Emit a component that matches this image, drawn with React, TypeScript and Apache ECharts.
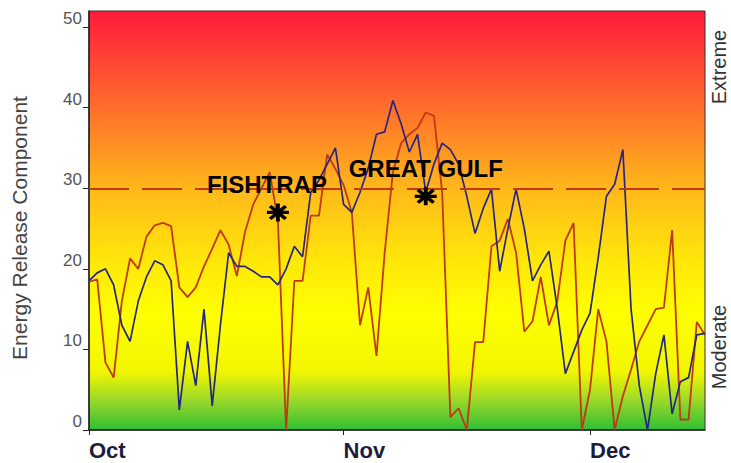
import { useEffect, useRef } from "react";
import * as echarts from "echarts";

// Categories: daily dates from Oct 1 to Dec 15
const monthNames = ["Oct", "Nov", "Dec"];
const monthLengths = [31, 30, 15];
const categories: string[] = [];
monthNames.forEach((m, i) => {
  for (let d = 1; d <= monthLengths[i]; d++) categories.push(`${m} ${d}`);
});

// Energy Release Component, blue series
const blueValues = [
  18.5, 19.5, 20, 18, 13, 11, 16, 19, 21, 20.5,
  18.5, 2.5, 11, 5.5, 15, 3, 13, 22, 20.3, 20.3,
  19.7, 19, 19, 18, 20, 22.8, 21.5, 29.5, 31, 33,
  35, 28, 27, 29.5, 32.5, 36.7, 37, 40.9, 38, 34.5,
  36.7, 29.5, 33, 35.6, 34.8, 33, 29, 24.4, 27.5, 29.9,
  19.7, 25, 29.9, 25, 18.5, 20.5, 22.2, 15.2, 7, 9.7,
  12.4, 14.5, 21.4, 29, 30.5, 34.8, 15, 5.5, 0, 7,
  11.8, 2, 6, 6.5, 11.8, 12,
];

// Energy Release Component, red series
const redValues = [
  18.4, 18.7, 8.4, 6.5, 16, 21.3, 20, 24, 25.4, 25.7,
  25.3, 17.7, 16.5, 17.7, 20.3, 22.5, 24.8, 23, 19.1, 24.6,
  28, 30, 32, 26, 0, 18.5, 18.5, 26.6, 26.6, 34.2,
  32.4, 30.4, 27, 13, 17.7, 9.2, 22, 32, 35.6, 36.7,
  37.5, 39.4, 39, 29.5, 1.6, 2.7, 0, 10.9, 10.9, 22.8,
  23.5, 26.2, 22, 12.2, 13.5, 19, 13, 15.9, 23.5, 25.7,
  0, 5, 15, 11, 0, 4.2, 7.5, 11, 13, 15,
  15.2, 24.8, 1.3, 1.3, 13.4, 11.8,
];

// Threshold line
const thresholdValue = 30;

// Station markers
const stationNames = ["FISHTRAP", "GREAT GULF"];
const stationDayIndex = [23, 41];
const stationValues = [27, 29];

// Y-axis ticks
const yTickValues = [0, 10, 20, 30, 40, 50];

const asteriskPath =
  "path://M0,-9L0,9M-9,0L9,0M-6.4,-6.4L6.4,6.4M-6.4,6.4L6.4,-6.4";

export default function App() {
  const ref = useRef<HTMLDivElement>(null);

  useEffect(() => {
    if (!ref.current) return;
    const chart = echarts.init(ref.current, undefined, { renderer: "svg" });

    const isMonthStart = (_i: number, v: string) => v.split(" ")[1] === "1";
    const font = "Arial, 'Liberation Sans', sans-serif";

    const option: any = {
      animation: false,
      backgroundColor: "#ffffff",
      grid: {
        left: 89,
        right: 26,
        top: 11,
        bottom: 33,
        show: true,
        borderColor: "#333",
        borderWidth: 1,
        backgroundColor: new echarts.graphic.LinearGradient(0, 0, 0, 1, [
          { offset: 0, color: "#ff1a3c" },
          { offset: 0.22, color: "#ff6a2c" },
          { offset: 0.43, color: "#ffba1a" },
          { offset: 0.6, color: "#ffe80a" },
          { offset: 0.72, color: "#ffff00" },
          { offset: 0.86, color: "#f2f600" },
          { offset: 0.93, color: "#9ad82a" },
          { offset: 1, color: "#2fbf35" },
        ]),
      },
      xAxis: {
        type: "category",
        data: categories,
        boundaryGap: false,
        axisLine: { show: true, lineStyle: { color: "#222", width: 1.5 } },
        axisTick: {
          show: true,
          interval: isMonthStart,
          length: 5,
          lineStyle: { color: "#222" },
        },
        axisLabel: {
          interval: isMonthStart,
          formatter: (v: string) => v.split(" ")[0],
          align: "left",
          fontSize: 22,
          fontWeight: "bold",
          fontFamily: font,
          color: "#1c1c3c",
          margin: 9,
        },
        splitLine: { show: false },
      },
      yAxis: {
        type: "value",
        min: 0,
        max: 52,
        interval: 10,
        axisLine: { show: true, lineStyle: { color: "#222", width: 1.5 } },
        axisTick: {
          show: true,
          length: 6,
          customValues: yTickValues,
          lineStyle: { color: "#222" },
        },
        axisLabel: {
          customValues: yTickValues,
          verticalAlign: "bottom",
          fontSize: 17,
          fontFamily: font,
          color: "#555",
          margin: 7,
        },
        splitLine: { show: false },
      },
      graphic: [
        {
          type: "text",
          x: 19,
          y: 228,
          rotation: Math.PI / 2,
          style: {
            text: "Energy Release Component",
            fontSize: 21,
            fontFamily: font,
            fill: "#444",
            align: "center",
            verticalAlign: "middle",
          },
        },
        {
          type: "text",
          x: 719,
          y: 67,
          rotation: Math.PI / 2,
          style: {
            text: "Extreme",
            fontSize: 20,
            fontFamily: font,
            fill: "#333",
            align: "center",
            verticalAlign: "middle",
          },
        },
        {
          type: "text",
          x: 719,
          y: 347,
          rotation: Math.PI / 2,
          style: {
            text: "Moderate",
            fontSize: 20,
            fontFamily: font,
            fill: "#333",
            align: "center",
            verticalAlign: "middle",
          },
        },
      ],
      series: [
        {
          type: "line",
          name: "red",
          data: redValues,
          symbol: "none",
          lineStyle: { color: "#c03818", width: 1.8 },
          z: 2,
          markLine: {
            silent: true,
            symbol: "none",
            label: { show: false },
            lineStyle: { color: "#c0391b", type: [40, 13], width: 2 },
            data: [{ yAxis: thresholdValue }],
          },
        },
        {
          type: "line",
          name: "blue",
          data: blueValues,
          symbol: "none",
          lineStyle: { color: "#262680", width: 1.7 },
          z: 3,
        },
        {
          type: "scatter",
          name: "stations",
          data: stationDayIndex.map((d, i) => [d, stationValues[i]]),
          symbol: asteriskPath,
          symbolSize: [22, 18],
          itemStyle: {
            color: "rgba(0,0,0,0)",
            borderColor: "#000",
            borderWidth: 3.5,
            opacity: 1,
          },
          z: 5,
          label: {
            show: true,
            position: "top",
            distance: 5,
            formatter: (p: any) => stationNames[p.dataIndex],
            fontSize: 24,
            fontWeight: "bold",
            fontFamily: font,
            color: "#000000",
            opacity: 1,
            textBorderWidth: 0,
          },
          labelLayout: (p: any) => (p.dataIndex === 0 ? { dx: -11 } : {}),
        },
      ],
    };

    chart.setOption(option);
    return () => chart.dispose();
  }, []);

  return (
    <div
      ref={ref}
      style={{ position: "absolute", left: 0, top: 0, width: 731, height: 463 }}
    />
  );
}
